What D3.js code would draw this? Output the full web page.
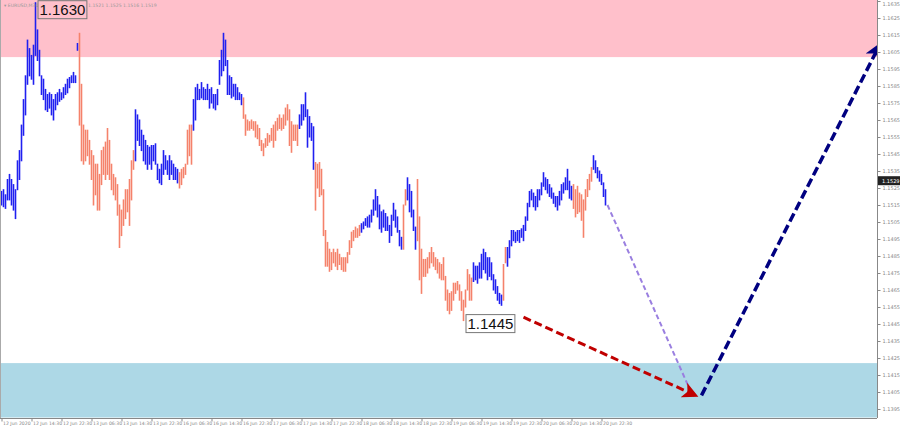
<!DOCTYPE html>
<html>
<head>
<meta charset="utf-8">
<script src="https://cdn.jsdelivr.net/npm/d3@7/dist/d3.min.js"></script>
<style>
  html, body { margin: 0; padding: 0; background: #fff; }
  svg { display: block; }
</style>
</head>
<body>
<svg id="chart" width="900" height="428"></svg>
<script>
// ---------- data ----------
const symbolTitle = "\u25BE EURUSD,M30";
const symbolQuote = "1.1521 1.1525 1.1516 1.1519";

const highs = [
1.1523,1.1524,1.1521,1.1530,1.1533,1.1530,1.1527,1.1524,1.1541,1.1547,
1.1562,1.1577,1.1591,1.1612,1.1607,1.1603,1.1609,1.1634,1.1618,1.1606,
1.1591,1.1589,1.1583,1.1580,1.1581,1.1580,1.1577,1.1580,1.1581,1.1583,
1.1581,1.1584,1.1586,1.1589,1.1590,1.1591,1.1593,1.1591,1.1610,1.1616,
1.1586,1.1562,1.1559,1.1559,1.1553,1.1547,1.1544,1.1539,1.1539,1.1533,
1.1547,1.1549,1.1552,1.1560,1.1553,1.1539,1.1533,1.1531,1.1527,1.1515,
1.1512,1.1518,1.1524,1.1524,1.1530,1.1541,1.1547,1.1571,1.1568,1.1565,
1.1559,1.1556,1.1553,1.1550,1.1549,1.1550,1.1550,1.1551,1.1539,1.1536,
1.1539,1.1547,1.1544,1.1541,1.1544,1.1541,1.1539,1.1537,1.1536,1.1534,
1.1536,1.1537,1.1539,1.1559,1.1562,1.1562,1.1577,1.1584,1.1586,1.1583,
1.1587,1.1584,1.1583,1.1586,1.1583,1.1584,1.1580,1.1580,1.1583,1.1600,
1.1606,1.1616,1.1612,1.1600,1.1591,1.1590,1.1586,1.1586,1.1584,1.1581,
1.1580,1.1578,1.1568,1.1565,1.1564,1.1565,1.1564,1.1564,1.1562,1.1560,
1.1553,1.1551,1.1554,1.1557,1.1556,1.1560,1.1562,1.1564,1.1566,1.1568,
1.1566,1.1568,1.1572,1.1574,1.1571,1.1564,1.1562,1.1562,1.1562,1.1568,
1.1574,1.1574,1.1581,1.1571,1.1567,1.1563,1.1561,1.1540,1.1539,1.1540,
1.1536,1.1524,1.1500,1.1493,1.1489,1.1487,1.1489,1.1487,1.1489,1.1486,
1.1484,1.1484,1.1484,1.1487,1.1494,1.1499,1.1500,1.1502,1.1501,1.1503,
1.1504,1.1505,1.1507,1.1508,1.1509,1.1512,1.1518,1.1524,1.1520,1.1515,
1.1511,1.1512,1.1510,1.1508,1.1503,1.1509,1.1516,1.1512,1.1508,1.1500,
1.1496,1.1515,1.1524,1.1531,1.1527,1.1523,1.1512,1.1502,1.1530,1.1508,
1.1489,1.1483,1.1483,1.1484,1.1487,1.1490,1.1487,1.1484,1.1483,1.1481,
1.1480,1.1484,1.1473,1.1465,1.1463,1.1464,1.1469,1.1469,1.1470,1.1468,
1.1464,1.1459,1.1465,1.1477,1.1474,1.1472,1.1481,1.1479,1.1479,1.1481,
1.1486,1.1489,1.1487,1.1484,1.1484,1.1481,1.1474,1.1471,1.1467,1.1463,
1.1462,1.1480,1.1490,1.1490,1.1494,1.1500,1.1500,1.1499,1.1500,1.1500,
1.1501,1.1503,1.1508,1.1516,1.1523,1.1524,1.1522,1.1520,1.1524,1.1524,
1.1528,1.1534,1.1531,1.1530,1.1527,1.1525,1.1522,1.1520,1.1520,1.1523,
1.1527,1.1528,1.1531,1.1536,1.1529,1.1526,1.1527,1.1524,1.1526,1.1522,
1.1521,1.1518,1.1524,1.1530,1.1533,1.1537,1.1544,1.1541,1.1537,1.1535,
1.1533,1.1528,1.1524
];
const lows = [
1.1515,1.1514,1.1513,1.1518,1.1518,1.1515,1.1512,1.1507,1.1524,1.1530,
1.1541,1.1556,1.1568,1.1586,1.1591,1.1589,1.1586,1.1603,1.1600,1.1591,
1.1580,1.1577,1.1571,1.1570,1.1572,1.1568,1.1565,1.1571,1.1574,1.1576,
1.1577,1.1578,1.1580,1.1581,1.1584,1.1587,1.1587,1.1587,1.1606,1.1562,
1.1541,1.1539,1.1541,1.1544,1.1539,1.1530,1.1515,1.1521,1.1512,1.1512,
1.1527,1.1533,1.1530,1.1533,1.1530,1.1524,1.1521,1.1518,1.1509,1.1490,
1.1497,1.1503,1.1507,1.1511,1.1503,1.1518,1.1536,1.1541,1.1553,1.1550,
1.1547,1.1541,1.1539,1.1536,1.1539,1.1536,1.1541,1.1539,1.1530,1.1528,
1.1527,1.1533,1.1536,1.1533,1.1530,1.1533,1.1530,1.1530,1.1528,1.1525,
1.1527,1.1531,1.1533,1.1539,1.1544,1.1539,1.1559,1.1565,1.1577,1.1577,
1.1578,1.1577,1.1577,1.1577,1.1572,1.1575,1.1572,1.1571,1.1574,1.1586,
1.1591,1.1594,1.1597,1.1580,1.1580,1.1578,1.1579,1.1577,1.1577,1.1577,
1.1574,1.1566,1.1556,1.1559,1.1559,1.1560,1.1559,1.1555,1.1554,1.1550,
1.1547,1.1544,1.1549,1.1550,1.1552,1.1553,1.1549,1.1553,1.1559,1.1560,
1.1559,1.1560,1.1562,1.1565,1.1550,1.1546,1.1553,1.1553,1.1550,1.1560,
1.1562,1.1565,1.1567,1.1549,1.1555,1.1553,1.1536,1.1512,1.1525,1.1520,
1.1521,1.1497,1.1479,1.1479,1.1476,1.1477,1.1481,1.1479,1.1477,1.1480,
1.1477,1.1476,1.1476,1.1481,1.1486,1.1490,1.1494,1.1496,1.1496,1.1497,
1.1499,1.1501,1.1503,1.1502,1.1502,1.1505,1.1509,1.1512,1.1508,1.1501,
1.1499,1.1502,1.1500,1.1500,1.1493,1.1497,1.1506,1.1502,1.1499,1.1491,
1.1489,1.1489,1.1515,1.1518,1.1511,1.1508,1.1500,1.1489,1.1494,1.1471,
1.1463,1.1473,1.1473,1.1475,1.1478,1.1481,1.1479,1.1477,1.1475,1.1472,
1.1471,1.1471,1.1459,1.1453,1.1451,1.1453,1.1459,1.1463,1.1465,1.1459,
1.1453,1.1447,1.1455,1.1465,1.1459,1.1459,1.1470,1.1471,1.1469,1.1472,
1.1472,1.1477,1.1475,1.1471,1.1473,1.1471,1.1465,1.1463,1.1459,1.1457,
1.1456,1.1459,1.1481,1.1479,1.1484,1.1491,1.1494,1.1493,1.1494,1.1493,
1.1496,1.1494,1.1500,1.1506,1.1514,1.1518,1.1514,1.1512,1.1514,1.1518,
1.1521,1.1526,1.1524,1.1522,1.1520,1.1519,1.1516,1.1514,1.1512,1.1515,
1.1518,1.1522,1.1524,1.1524,1.1519,1.1518,1.1513,1.1508,1.1510,1.1511,
1.1506,1.1496,1.1512,1.1520,1.1524,1.1529,1.1536,1.1534,1.1531,1.1529,
1.1527,1.1520,1.1515
];

// wave segments: first bar index of each wave, colours alternate
const waveStarts = [0, 39, 67, 89, 96, 121, 149, 157, 180, 201, 203, 208, 236, 251, 253, 286, 296];
const waveColors = ["#2020f0", "#f5826b"];

// x-axis labels, one every 15 bars
const timeLabels = ["12 Jun 2020","12 Jun 14:30","12 Jun 22:30","13 Jun 06:30","13 Jun 14:30",
  "13 Jun 22:30","16 Jun 06:30","16 Jun 14:30","16 Jun 22:30","17 Jun 06:30","17 Jun 14:30",
  "17 Jun 22:30","18 Jun 06:30","18 Jun 14:30","18 Jun 22:30","19 Jun 06:30","19 Jun 14:30",
  "19 Jun 22:30","20 Jun 06:30","20 Jun 14:30","20 Jun 22:30"];
const barsPerLabel = 15;

// price-axis tick values
const priceTicks = d3.range(0, 25).map(k => +(1.1635 - k * 0.001).toFixed(4));

// zones [top, bottom]
const resistanceZone = [1.1650, 1.1602];
const supportZone = [1.1422, 1.1390];

// forecast arrows [startIndex, startPrice, endIndex, endPrice]
const forecastDown = [261, 1.1449, 347, 1.1403];
const forecastUp = [350, 1.1403, 439, 1.1609];
const forecastPath = [303, 1.1515, 344, 1.1407];

// annotations
const highLabel = { index: 17, price: 1.1634, text: "1.1630" };
const lowLabel = { index: 231, price: 1.1447, text: "1.1445" };
const lastPrice = 1.1529;

// ---------- chart ----------
const plotRight = 877, plotBottom = 418;
const svg = d3.select("#chart");

const x = d3.scaleLinear().domain([0, 1]).range([1.5, 3.5]);
const y = d3.scaleLinear().domain([1.1635, 1.1395]).range([1, 409]);

const defs = svg.append("defs");
defs.append("clipPath").attr("id", "plotClip")
  .append("rect").attr("x", 0).attr("y", 0).attr("width", plotRight).attr("height", plotBottom);

function arrowMarker(id, color, size) {
  defs.append("marker").attr("id", id)
    .attr("viewBox", "0 0 10 10").attr("refX", 8).attr("refY", 5)
    .attr("markerWidth", size).attr("markerHeight", size)
    .attr("markerUnits", "userSpaceOnUse")
    .attr("orient", "auto")
    .append("path").attr("d", "M0,0 L10,5 L0,10 L2.5,5 Z").attr("fill", color);
}
arrowMarker("arrRed", "#c00000", 16);
arrowMarker("arrNavy", "#000080", 17);

const plot = svg.append("g").attr("clip-path", "url(#plotClip)");

// zones
plot.append("rect").attr("x", 0).attr("width", plotRight)
  .attr("y", y(resistanceZone[0])).attr("height", y(resistanceZone[1]) - y(resistanceZone[0]))
  .attr("fill", "#ffc0cb");
plot.append("rect").attr("x", 0).attr("width", plotRight)
  .attr("y", y(supportZone[0])).attr("height", y(supportZone[1]) - y(supportZone[0]))
  .attr("fill", "#add8e6");

// title (behind the price boxes)
svg.append("text").attr("x", 4).attr("y", 7).attr("font-size", 4.6)
  .attr("font-family", "DejaVu Sans, sans-serif").attr("fill", "#999").text(symbolTitle);
svg.append("text").attr("x", 88).attr("y", 7).attr("font-size", 4.6)
  .attr("font-family", "DejaVu Sans, sans-serif").attr("fill", "#999").text(symbolQuote);

// bars
const colorOf = i => {
  let k = 0;
  for (let j = 0; j < waveStarts.length; j++) if (i >= waveStarts[j]) k = j;
  return waveColors[k % 2];
};
plot.append("g").selectAll("line").data(highs).join("line")
  .attr("x1", (d, i) => x(i)).attr("x2", (d, i) => x(i))
  .attr("y1", d => y(d) - 0.5).attr("y2", (d, i) => y(lows[i]) + 0.5)
  .attr("stroke", (d, i) => colorOf(i))
  .attr("stroke-width", 1.6);

// forecast lines
function dashed(a, color, width, dash, marker) {
  const l = plot.append("line")
    .attr("x1", x(a[0])).attr("y1", y(a[1]))
    .attr("x2", x(a[2])).attr("y2", y(a[3]))
    .attr("stroke", color).attr("stroke-width", width)
    .attr("stroke-dasharray", dash);
  if (marker) l.attr("marker-end", `url(#${marker})`);
}
dashed(forecastPath, "#9a7fe0", 2, "5,3", null);
dashed(forecastDown, "#c00000", 3, "8,4", "arrRed");
dashed(forecastUp, "#000080", 3.5, "9,4", "arrNavy");

// annotation labels
function priceBox(lbl, dx, dy, fill) {
  const g = svg.append("g");
  const t = g.append("text")
    .attr("x", x(lbl.index) + dx + 2).attr("y", y(lbl.price) + dy + 14)
    .attr("font-family", "Liberation Sans, Arial, sans-serif")
    .attr("font-size", 15).attr("fill", "#111").text(lbl.text);
  const bb = t.node().getBBox();
  g.insert("rect", "text")
    .attr("x", bb.x - 1.5).attr("y", y(lbl.price) + dy)
    .attr("width", bb.width + 3).attr("height", 18)
    .attr("fill", fill)
    .attr("stroke", "#777").attr("stroke-width", 1);
}
priceBox(highLabel, 2, -2, "#ffc0cb");
priceBox(lowLabel, 2, -6, "#ffffff");

// axes lines
svg.append("line").attr("x1", 0.5).attr("x2", 0.5).attr("y1", 0).attr("y2", plotBottom)
  .attr("stroke", "#aaa");
svg.append("line").attr("x1", plotRight + 0.5).attr("x2", plotRight + 0.5).attr("y1", 0).attr("y2", plotBottom)
  .attr("stroke", "#888");
svg.append("line").attr("x1", 0).attr("x2", plotRight).attr("y1", plotBottom + 0.5).attr("y2", plotBottom + 0.5)
  .attr("stroke", "#888");

// price axis
const yAxis = d3.axisRight(y).tickValues(priceTicks).tickSize(3).tickFormat(d3.format(".4f"));
const gy = svg.append("g").attr("transform", `translate(${plotRight + 0.5},0)`).call(yAxis);
gy.select(".domain").remove();
gy.selectAll(".tick line").attr("stroke", "#888");
gy.selectAll(".tick text").attr("x", 5).attr("font-size", 5)
  .attr("font-family", "DejaVu Sans, sans-serif").attr("fill", "#888")
  .attr("dy", (d, i) => i === 0 ? "0.95em" : "0.32em");

// last price box
const lp = svg.append("g").attr("transform", `translate(${plotRight + 1},${y(lastPrice)})`);
lp.append("rect").attr("x", 0).attr("y", -5).attr("width", 22).attr("height", 9).attr("fill", "#222");
lp.append("text").attr("x", 4).attr("y", 2).attr("font-size", 5)
  .attr("font-family", "DejaVu Sans, sans-serif").attr("fill", "#fff").text(d3.format(".4f")(lastPrice));

// time axis
const tickIdx = timeLabels.map((d, k) => k * barsPerLabel);
const xAxis = d3.axisBottom(x).tickValues(tickIdx).tickSize(3)
  .tickFormat((d, k) => timeLabels[k]);
const gx = svg.append("g").attr("transform", `translate(0,${plotBottom + 0.5})`).call(xAxis);
gx.select(".domain").remove();
gx.selectAll(".tick line").attr("stroke", "#888");
gx.selectAll(".tick text").attr("text-anchor", "start").attr("x", 1).attr("y", 3).attr("dy", "0.71em")
  .attr("font-size", 4.6).attr("font-family", "DejaVu Sans, sans-serif").attr("fill", "#888");
</script>
</body>
</html>
